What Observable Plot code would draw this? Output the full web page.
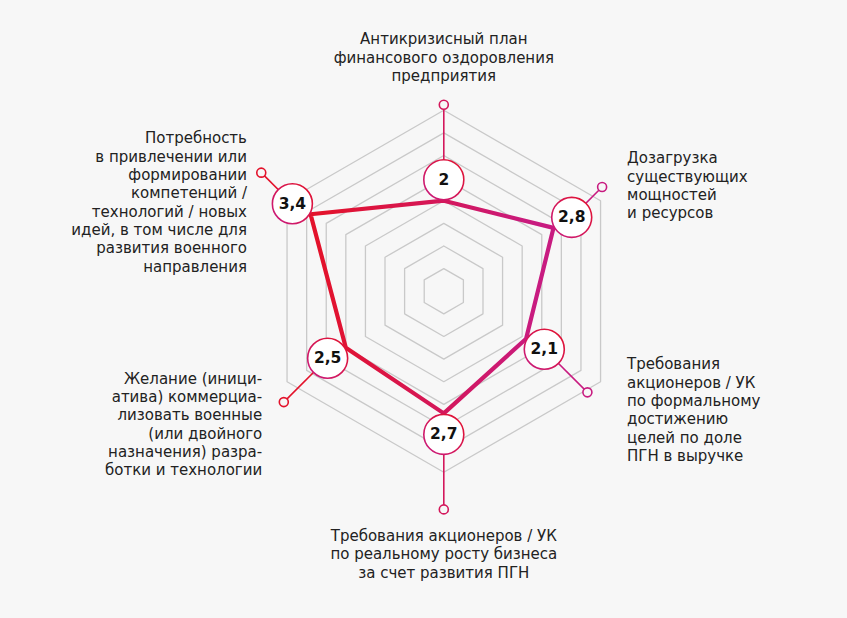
<!DOCTYPE html>
<html>
<head>
<meta charset="utf-8">
<script src="https://cdn.jsdelivr.net/npm/d3@7"></script>
<script src="https://cdn.jsdelivr.net/npm/@observablehq/plot@0.6"></script>
<style>
  html, body { margin: 0; padding: 0; background: #f7f7f7; }
  #chart { width: 847px; height: 618px; }
</style>
</head>
<body>
<div id="chart"></div>
<script>
// ---------- DATA ----------
const categories = [
  "Антикризисный план\nфинансового оздоровления\nпредприятия",
  "Дозагрузка\nсуществующих\nмощностей\nи ресурсов",
  "Требования\nакционеров / УК\nпо формальному\nдостижению\nцелей по доле\nПГН в выручке",
  "Требования акционеров / УК\nпо реальному росту бизнеса\nза счет развития ПГН",
  "Желание (иници-\nатива) коммерциа-\nлизовать военные\n(или двойного\nназначения) разра-\nботки и технологии",
  "Потребность\nв привлечении или\nформировании\nкомпетенций /\nтехнологий / новых\nидей, в том числе для\nразвития военного\nнаправления"
];
const values = [2, 2.8, 2.1, 2.7, 2.5, 3.4];
const valueLabels = ["2", "2,8", "2,1", "2,7", "2,5", "3,4"];
const gridLevels = [0.5, 1, 1.5, 2, 2.5, 3, 3.5, 4];

// ---------- LAYOUT ----------
const W = 847, H = 618;
const CX = 443.3, CY = 290.7;   // centre in pixels
const K = 45.25;                // pixels per unit
const axisAngles = [90, 30, -30, -90, -150, 150];
const badgeOffset = 21;         // px, radial offset of value badge
const stubAngles = [90, 45, -45, -90, -135, 135];
const stubLen = [75, 43, 61, 75, 62, 44];
const labelOffsets = [[0, -48], [25, -2], [39.6, 17], [0, 44], [-21.6, 21.6], [-14.3, 29]];
const labelAnchors = ["middle", "start", "start", "middle", "end", "end"];
const RED = "#e3122b", MAGENTA = "#c81b80";
const FONT = "'DejaVu Sans', Inter, sans-serif";

const rad = a => a * Math.PI / 180;
const polar = (r, a) => [r * Math.cos(rad(a)), r * Math.sin(rad(a))];

// grid rings
const rings = [];
gridLevels.forEach(lv => {
  [...axisAngles, axisAngles[0]].forEach((a, i) => {
    const [x, y] = polar(lv, a);
    rings.push({level: lv, i, x, y});
  });
});

// data polygon
const poly = [...values, values[0]].map((v, i) => {
  const [x, y] = polar(v, axisAngles[i % 6]);
  return {x, y};
});

// badges, stubs, markers, labels
const items = values.map((v, i) => {
  const [bx, by] = polar(v + badgeOffset / K, axisAngles[i]);
  const [sx, sy] = polar(stubLen[i] / K, stubAngles[i]);
  const mx = bx + sx, my = by + sy;
  return {
    cat: categories[i], label: valueLabels[i],
    bx, by, mx, my,
    lx: mx + labelOffsets[i][0] / K,
    ly: my - labelOffsets[i][1] / K,
    anchor: labelAnchors[i]
  };
});

const marks = [
  Plot.line(rings, {x: "x", y: "y", z: "level", stroke: "#c9c9c9", strokeWidth: 1.3}),
  Plot.link(items, {x1: "bx", y1: "by", x2: "mx", y2: "my", stroke: "url(#gline)", strokeWidth: 1.6}),
  Plot.dot(items, {x: "mx", y: "my", r: 4.5, fill: "#f7f7f7", stroke: "url(#gline)", strokeWidth: 1.6}),
  Plot.line(poly, {x: "x", y: "y", stroke: "url(#gline)", strokeWidth: 4.2, strokeLinejoin: "miter", curve: "linear"}),
  Plot.dot(items, {x: "bx", y: "by", r: 20, fill: "white", stroke: "url(#gbadge)", strokeWidth: 1.6}),
  Plot.text(items, {x: "bx", y: "by", text: "label", fontSize: 15.5, fontWeight: 700, fill: "#111", fontFamily: FONT})
];
items.forEach(d => {
  marks.push(Plot.text([d], {
    x: "lx", y: "ly", text: "cat", textAnchor: d.anchor, lineAnchor: "middle",
    lineHeight: 1.22, fontSize: 15, fill: "#222", fontFamily: FONT
  }));
});

const svg = Plot.plot({
  width: W, height: H,
  marginTop: 0, marginBottom: 0, marginLeft: 0, marginRight: 0,
  x: {domain: [-CX / K, (W - CX) / K], range: [0, W], axis: null},
  y: {domain: [-(H - CY) / K, CY / K], range: [H, 0], axis: null},
  style: {background: "#f7f7f7", fontFamily: FONT},
  marks
});

// gradients
const defs = d3.select(svg).insert("defs", ":first-child");
const g1 = defs.append("linearGradient").attr("id", "gline")
  .attr("gradientUnits", "userSpaceOnUse")
  .attr("x1", 320).attr("y1", 0).attr("x2", 535).attr("y2", 0);
g1.append("stop").attr("offset", "0%").attr("stop-color", RED);
g1.append("stop").attr("offset", "100%").attr("stop-color", MAGENTA);
const g2 = defs.append("linearGradient").attr("id", "gbadge")
  .attr("x1", "0").attr("y1", "1").attr("x2", "1").attr("y2", "0");
g2.append("stop").attr("offset", "0%").attr("stop-color", MAGENTA);
g2.append("stop").attr("offset", "100%").attr("stop-color", RED);

document.getElementById("chart").appendChild(svg);
</script>
</body>
</html>
